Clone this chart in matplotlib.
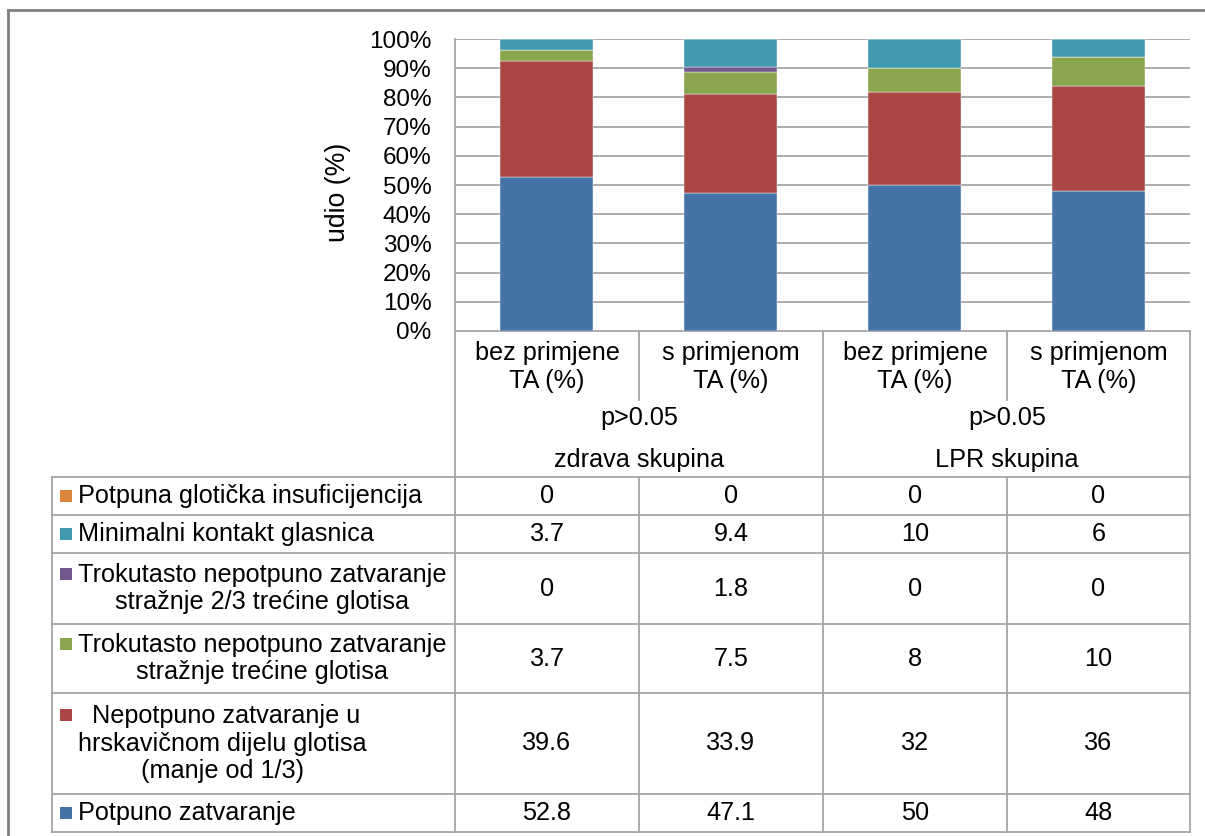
import matplotlib.pyplot as plt
import numpy as np
from matplotlib.lines import Line2D
from matplotlib.patches import Rectangle

plt.rcParams["font.family"] = ["Liberation Sans", "DejaVu Sans"]

# podaci
categories = ["bez primjene\nTA (%)", "s primjenom\nTA (%)", "bez primjene\nTA (%)", "s primjenom\nTA (%)"]
groups = ["zdrava skupina", "LPR skupina"]
p_values = ["p>0.05", "p>0.05"]
series_names = [
    "Potpuno zatvaranje",
    " Nepotpuno zatvaranje u\nhrskavičnom dijelu glotisa\n(manje od 1/3)",
    "Trokutasto nepotpuno zatvaranje\nstražnje trećine glotisa",
    "Trokutasto nepotpuno zatvaranje\nstražnje 2/3 trećine glotisa",
    "Minimalni kontakt glasnica",
    "Potpuna glotička insuficijencija",
]
potpuno = [52.8, 47.1, 50, 48]
nepotpuno = [39.6, 33.9, 32, 36]
trokut_1_3 = [3.7, 7.5, 8, 10]
trokut_2_3 = [0, 1.8, 0, 0]
minimalni = [3.7, 9.4, 10, 6]
insuficijencija = [0, 0, 0, 0]
colors = ["#4572A7", "#AA4643", "#89A54E", "#71588F", "#4198AF", "#DB843D"]

values = np.array([potpuno, nepotpuno, trokut_1_3, trokut_2_3, minimalni, insuficijencija], dtype=float)
shares = values / values.sum(axis=0) * 100  # 100% stacked

W, H = 1205, 836
FS = 18.2
TICK_FS = 17.5
GRID = "#A6A6A6"

fig = plt.figure(figsize=(W / 100, H / 100), dpi=100)

# pozadinska os u pikselima (tablica, okvir)
bg = fig.add_axes([0, 0, 1, 1])
bg.set_xlim(0, W)
bg.set_ylim(H, 0)
bg.axis("off")

# rubovi stupaca i redaka
x_left, x_lab = 52, 455
col_edges = [455, 639, 823, 1007, 1190]
y_top, y_bottom = 39, 331
row_edges = [477, 515, 553, 624, 693, 794, 832]

# glavni graf
ax = fig.add_axes([x_lab / W, 1 - y_bottom / H, (col_edges[-1] - x_lab) / W, (y_bottom - y_top) / H])
x = np.arange(len(categories))
bottom = np.zeros(len(categories))
for i in range(len(series_names)):
    ax.bar(x, shares[i], 0.505, bottom=bottom, color=colors[i], zorder=3,
           edgecolor="white", linewidth=0.3)
    bottom += shares[i]
ax.set_xlim(-0.5, len(categories) - 0.5)
ax.set_ylim(0, 100)
ax.set_yticks(np.arange(0, 101, 10))
ax.set_yticklabels([f"{v}%" for v in range(0, 101, 10)], fontsize=TICK_FS)
ax.tick_params(axis="y", length=0, pad=17)
ax.set_xticks([])
ax.yaxis.grid(True, color=GRID, linewidth=1.3, zorder=0)
for s in ["top", "right", "bottom"]:
    ax.spines[s].set_visible(False)
ax.spines["left"].set_color(GRID)
ax.spines["left"].set_linewidth(1.3)
fig.text(338 / W, 1 - 192 / H, "udio (%)", rotation=90, ha="center", va="center", fontsize=19.2)


def hline(y, x0, x1):
    bg.add_line(Line2D([x0, x1], [y, y], color=GRID, linewidth=1.3))


def vline(xx, y0, y1):
    bg.add_line(Line2D([xx, xx], [y0, y1], color=GRID, linewidth=1.3))


# zaglavlje (kategorije, p-vrijednosti, skupine)
hline(y_bottom, col_edges[0], col_edges[-1])
for j, xx in enumerate(col_edges):
    vline(xx, y_bottom, row_edges[0] if j % 2 == 0 else 400)
for j, cat in enumerate(categories):
    cx = (col_edges[j] + col_edges[j + 1]) / 2
    bg.text(cx, 367, cat, ha="center", va="center", fontsize=FS, linespacing=1.25)
for g in range(len(groups)):
    cx = col_edges[2 * g + 1]
    bg.text(cx, 418, p_values[g], ha="center", va="center", fontsize=FS)
    bg.text(cx, 460, groups[g], ha="center", va="center", fontsize=FS)

# tablica podataka (redoslijed kao u legendi: odozgo prema dolje)
for r in row_edges:
    hline(r, x_left, col_edges[-1])
for xx in [x_left] + col_edges:
    vline(xx, row_edges[0], row_edges[-1])

order = list(range(len(series_names)))[::-1]
for k, i in enumerate(order):
    y0, y1 = row_edges[k], row_edges[k + 1]
    cy = (y0 + y1) / 2
    lines = series_names[i].count("\n") + 1
    sq_y = cy - (lines - 1) * 14.5 if lines > 1 else cy
    bg.add_patch(Rectangle((60, sq_y - 6), 12, 12, color=colors[i], linewidth=0))
    bg.text(78, cy, series_names[i], ha="left", va="center", fontsize=FS,
            multialignment="center", linespacing=1.2)
    for j in range(len(categories)):
        cx = (col_edges[j] + col_edges[j + 1]) / 2
        bg.text(cx, cy, f"{values[i][j]:g}", ha="center", va="center", fontsize=FS)

# vanjski okvir
bg.add_line(Line2D([8, 8], [10, H], color="#808080", linewidth=2))
bg.add_line(Line2D([8, W], [10, 10], color="#808080", linewidth=2))

fig.savefig("out.png", dpi=100)
